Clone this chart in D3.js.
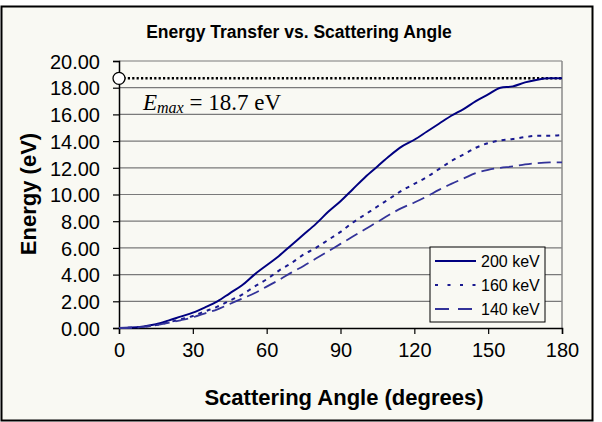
<!DOCTYPE html>
<html>
<head>
<meta charset="utf-8">
<script src="https://cdn.jsdelivr.net/npm/d3@7"></script>
<style>
  body { margin: 0; background: #fff; }
  svg { display: block; }
</style>
</head>
<body>
<div id="chart"></div>
<script>
// scattering angle in degrees
const angles = [0, 5, 10, 15, 20, 25, 30, 35, 40, 45, 50, 55, 60, 65, 70, 75, 80, 85, 90,
  95, 100, 105, 110, 115, 120, 125, 130, 135, 140, 145, 150, 155, 160, 165, 170, 175, 180];

// energy (eV)
const e200 = [0, 0.03, 0.12, 0.28, 0.55, 0.85, 1.15, 1.55, 2.0, 2.6, 3.2, 4.0, 4.7, 5.4, 6.2, 7.0, 7.8, 8.7, 9.5,
  10.4, 11.3, 12.1, 12.9, 13.6, 14.1, 14.7, 15.3, 15.9, 16.4, 17.0, 17.5, 18.0, 18.1, 18.4, 18.6, 18.7, 18.7];
const e160 = [0, 0.02, 0.1, 0.22, 0.42, 0.65, 0.9, 1.25, 1.6, 2.05, 2.5, 3.1, 3.65, 4.3, 4.85, 5.5, 6.0, 6.6, 7.2,
  7.9, 8.5, 9.1, 9.7, 10.3, 10.8, 11.3, 11.9, 12.5, 13.0, 13.5, 13.85, 14.05, 14.15, 14.3, 14.4, 14.4, 14.45];
const e140 = [0, 0.02, 0.09, 0.21, 0.38, 0.58, 0.8, 1.1, 1.4, 1.8, 2.2, 2.6, 3.1, 3.6, 4.15, 4.65, 5.2, 5.75, 6.3,
  6.85, 7.4, 7.95, 8.5, 9.0, 9.4, 9.85, 10.35, 10.8, 11.2, 11.6, 11.85, 12.0, 12.1, 12.25, 12.35, 12.4, 12.4];

const seriesNames = ["200 keV", "160 keV", "140 keV"];
const xTicks = [0, 30, 60, 90, 120, 150, 180];
const yTicks = [0, 2, 4, 6, 8, 10, 12, 14, 16, 18, 20];
const eMax = 18.7;

const styles = [
  { color: "#000080", dash: null, width: 2 },
  { color: "#1a1a90", dash: "4,5", width: 2 },
  { color: "#333399", dash: "13,6", width: 1.8 }
];

const W = 602, H = 422;
const svg = d3.select("#chart").append("svg")
  .attr("width", W)
  .attr("height", H);

// outer frame
svg.append("rect")
  .attr("x", 1.5).attr("y", 6.5)
  .attr("width", 591).attr("height", 414)
  .attr("fill", "#f9f9f3")
  .attr("stroke", "#000")
  .attr("stroke-width", 2);

const pLeft = 119, pRight = 562, pTop = 61, pBottom = 328;
const x = d3.scaleLinear().domain([0, 180]).range([pLeft, pRight]);
const y = d3.scaleLinear().domain([0, 20]).range([pBottom, pTop]);

// gridlines
svg.append("g")
  .selectAll("line")
  .data(yTicks.slice(1))
  .enter().append("line")
  .attr("x1", pLeft).attr("x2", pRight)
  .attr("y1", d => y(d)).attr("y2", d => y(d))
  .attr("stroke", "#7a7a7a")
  .attr("stroke-width", 1.2);

// right border of the plot area
svg.append("line")
  .attr("x1", pRight).attr("x2", pRight)
  .attr("y1", pTop).attr("y2", pBottom)
  .attr("stroke", "#8a8a8a")
  .attr("stroke-width", 1.5);

// axes
const xAxis = svg.append("g")
  .attr("transform", `translate(0,${pBottom})`)
  .call(d3.axisBottom(x).tickValues(xTicks).tickSize(6).tickPadding(9).tickFormat(d3.format("d")));
const yAxis = svg.append("g")
  .attr("transform", `translate(${pLeft},0)`)
  .call(d3.axisLeft(y).tickValues(yTicks).tickSize(6).tickPadding(13).tickFormat(d3.format(".2f")));

[xAxis, yAxis].forEach(g => {
  g.select(".domain").attr("stroke", "#000").attr("stroke-width", 1.5);
  g.selectAll(".tick line").attr("stroke", "#000").attr("stroke-width", 1.2);
  g.selectAll("text")
    .attr("fill", "#000")
    .style("font-family", "Liberation Sans, Arial, sans-serif")
    .style("font-size", "20px");
});
yAxis.selectAll("text").attr("dy", "0.36em");

// Emax dotted line with open circle
svg.append("line")
  .attr("x1", x(0)).attr("x2", x(180))
  .attr("y1", y(eMax)).attr("y2", y(eMax))
  .attr("stroke", "#000")
  .attr("stroke-width", 2.5)
  .attr("stroke-dasharray", "2.2,2.2");
svg.append("circle")
  .attr("cx", x(0)).attr("cy", y(eMax))
  .attr("r", 6)
  .attr("fill", "#fff")
  .attr("stroke", "#000")
  .attr("stroke-width", 1.3);

// curves
const allSeries = [e200, e160, e140];
const line = d3.line()
  .x((d, i) => x(angles[i]))
  .y(d => y(d))
  .curve(d3.curveMonotoneX);

allSeries.forEach((vals, k) => {
  svg.append("path")
    .datum(vals)
    .attr("d", line)
    .attr("fill", "none")
    .attr("stroke", styles[k].color)
    .attr("stroke-width", styles[k].width)
    .attr("stroke-dasharray", styles[k].dash);
});

// Emax label
const lab = svg.append("text")
  .attr("x", 143).attr("y", 110)
  .style("font-family", "Liberation Serif, Times New Roman, serif")
  .style("font-size", "23px")
  .attr("fill", "#000");
lab.append("tspan").style("font-style", "italic").text("E");
lab.append("tspan").style("font-style", "italic").style("font-size", "16px").attr("dy", 3).text("max");
lab.append("tspan").attr("dy", -3).text(" = 18.7 eV");

// title and axis titles
svg.append("text")
  .attr("x", 299).attr("y", 38)
  .attr("text-anchor", "middle")
  .style("font-family", "Liberation Sans, Arial, sans-serif")
  .style("font-weight", "bold")
  .style("font-size", "17.5px")
  .text("Energy Transfer vs. Scattering Angle");

svg.append("text")
  .attr("x", 344).attr("y", 405)
  .attr("text-anchor", "middle")
  .style("font-family", "Liberation Sans, Arial, sans-serif")
  .style("font-weight", "bold")
  .style("font-size", "22px")
  .text("Scattering Angle (degrees)");

svg.append("text")
  .attr("transform", `translate(36,194) rotate(-90)`)
  .attr("text-anchor", "middle")
  .style("font-family", "Liberation Sans, Arial, sans-serif")
  .style("font-weight", "bold")
  .style("font-size", "22px")
  .text("Energy (eV)");

// legend
const legend = svg.append("g").attr("transform", "translate(430,247)");
legend.append("rect")
  .attr("width", 115).attr("height", 75)
  .attr("fill", "#f9f9f3")
  .attr("stroke", "#000")
  .attr("stroke-width", 1);
seriesNames.forEach((name, k) => {
  const row = legend.append("g").attr("transform", `translate(0,${14 + k * 24})`);
  row.append("line")
    .attr("x1", 5).attr("x2", 46)
    .attr("stroke", styles[k].color)
    .attr("stroke-width", 2)
    .attr("stroke-dasharray", k === 0 ? null : (k === 1 ? "3,9.5" : "14,9"));
  row.append("text")
    .attr("x", 51).attr("dy", "0.36em")
    .style("font-family", "Liberation Sans, Arial, sans-serif")
    .style("font-size", "16px")
    .text(name);
});
</script>
</body>
</html>
